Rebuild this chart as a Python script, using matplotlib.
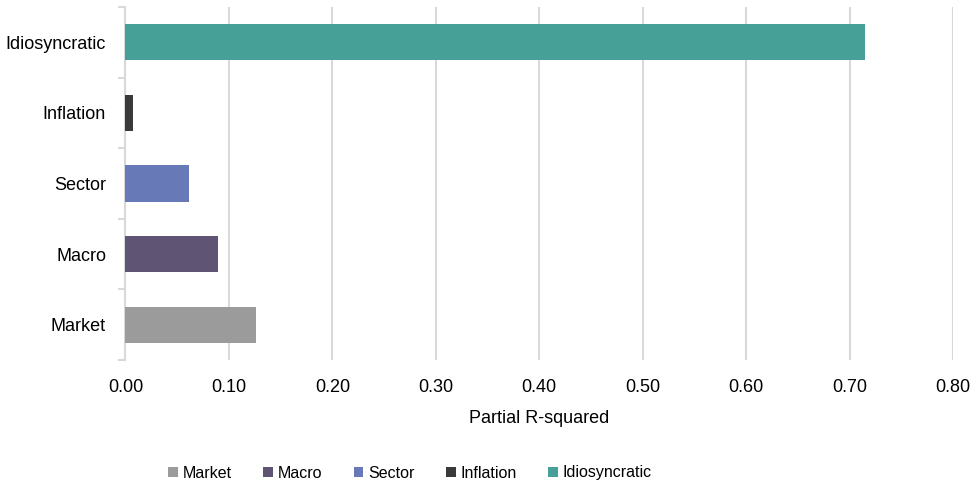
import matplotlib.pyplot as plt

plt.rcParams['font.family'] = ['Liberation Sans', 'DejaVu Sans']

factors = ['Market', 'Macro', 'Sector', 'Inflation', 'Idiosyncratic']
partial_r2 = [0.126, 0.089, 0.061, 0.007, 0.715]
colors = ['#9b9b9b', '#5f5473', '#6879b8', '#3a3a3a', '#46a098']
xticks = [0.0, 0.1, 0.2, 0.3, 0.4, 0.5, 0.6, 0.7, 0.8]

fig = plt.figure(figsize=(9.79, 4.87), dpi=100)
ax = fig.add_axes([125.5 / 979, 1 - 360 / 487, (953 - 125.5) / 979, 353 / 487])

for i, (name, val, c) in enumerate(zip(factors, partial_r2, colors)):
    ax.barh(i, val, height=0.51, color=c, label=name, zorder=3)

ax.set_xlim(0, 0.8)
ax.set_ylim(-0.5, len(factors) - 0.5)
ax.set_xticks(xticks)
ax.set_xticklabels(['%.2f' % t for t in xticks], fontsize=13)
ax.set_yticks(range(len(factors)))
ax.set_yticklabels(factors, fontsize=13)
ax.tick_params(axis='y', length=0, pad=14)
ax.tick_params(axis='x', length=0, pad=14)

# category boundary ticks on the left axis
ax.set_yticks([i - 0.5 for i in range(len(factors) + 1)], minor=True)
ax.tick_params(axis='y', which='minor', length=5, color='#d9d9d9', width=1.5)

ax.grid(axis='x', color='#d9d9d9', linewidth=1.5, zorder=0)
for s in ['top', 'right', 'bottom']:
    ax.spines[s].set_visible(False)
ax.spines['left'].set_color('#d9d9d9')
ax.spines['left'].set_linewidth(1.5)

ax.set_xlabel('Partial R-squared', fontsize=13, labelpad=10)

fig.legend(loc='center', bbox_to_anchor=(410 / 979, 1 - 473 / 487), ncol=5,
           frameon=False, fontsize=11.5, handlelength=0.62, handleheight=0.62,
           handletextpad=0.3, columnspacing=1.95)

fig.savefig('out.png', dpi=100)
